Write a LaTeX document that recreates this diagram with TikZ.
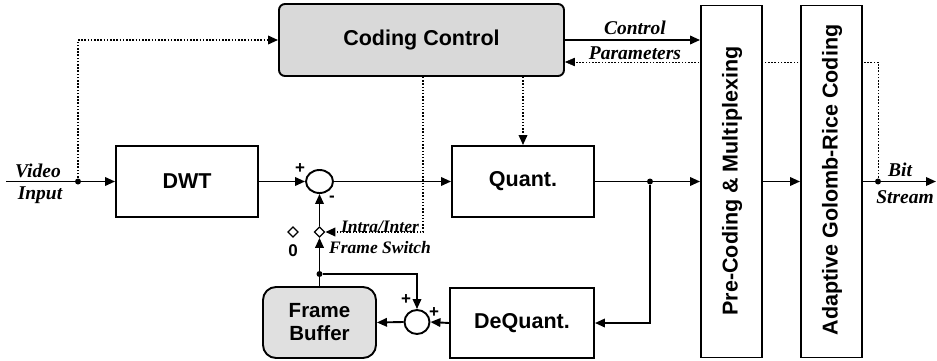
\documentclass[tikz,border=0pt]{standalone}
\usepackage{fontspec}
\setmainfont{Liberation Serif}
\setsansfont{Liberation Sans}
\usetikzlibrary{arrows.meta,shapes.geometric}
\pgfdeclarelayer{bg}
\pgfsetlayers{bg,main}

\begin{document}
\begin{tikzpicture}[x=1pt,y=-1pt,line width=1.9pt,
  blocklabel/.style={font=\sffamily\bfseries\fontsize{21.5}{25}\selectfont},
  block/.style={draw,fill=white,inner sep=0pt,blocklabel},
  ctrlbox/.style={block,fill=black!15,rounded corners=6pt},
  bufbox/.style={block,fill=black!12,rounded corners=13pt,align=center,
    font=\sffamily\bfseries\fontsize{20.5}{23}\selectfont},
  ital/.style={font=\rmfamily\bfseries\itshape\fontsize{19.5}{22}\selectfont,inner sep=0pt},
  smallital/.style={font=\rmfamily\bfseries\itshape\fontsize{17.5}{20}\selectfont,inner sep=0pt},
  sign/.style={font=\sffamily\bfseries\fontsize{17}{18}\selectfont,inner sep=0pt},
  flow/.style={-{Triangle[length=10pt,width=8.5pt]}},
  ctrl/.style={flow,dash pattern=on 1.5pt off 1.7pt},
  junction/.style={circle,fill,inner sep=0pt,minimum size=6pt},
  sumnode/.style={ellipse,draw,fill=white,inner sep=0pt},
  switchpt/.style={diamond,draw,fill=white,line width=1.2pt,inner sep=0pt,minimum size=10.5pt}]

\useasboundingbox (0,0) rectangle (937,361);

% processing blocks
\node[ctrlbox,minimum width=285pt,minimum height=72pt] (cc) at (421.5,40) {Coding Control};
\node[block,minimum width=142pt,minimum height=71pt] (dwt) at (187,181.5) {DWT};
\node[block,minimum width=142pt,minimum height=71pt] (quant) at (523,181.5) {Quant.};
\node[block,minimum width=144pt,minimum height=70pt] (deq) at (522,323) {DeQuant.};
\node[bufbox,minimum width=113pt,minimum height=71pt] (fb) at (319.5,322.5) {Frame\\Buffer};
\node[block,minimum width=61pt,minimum height=352pt] (pre) at (731.5,181.5) {};
\node[blocklabel,rotate=90] (pretext) at (732,181) {Pre-Coding \& Multiplexing};
\node[block,minimum width=61pt,minimum height=352pt] (agr) at (831.5,181.5) {};
\node[blocklabel,rotate=90] (agrtext) at (832,180) {Adaptive Golomb-Rice Coding};

% adders and the intra/inter switch
\node[sumnode,minimum width=27pt,minimum height=23pt] (sum1) at (319.5,181.5) {};
\node[sumnode,minimum width=25pt,minimum height=24pt] (sum2) at (417,322) {};
\node[switchpt] (sw) at (319.5,232) {};
\node[switchpt] (sw0) at (293,232) {};
\node[sign] (zero) at (293,251) {0};
\node[sign] (p1) at (300,169) {+};
\node[sign] (m1) at (332,199) {-};
\node[sign] (p2) at (406,300) {+};
\node[sign] (p3) at (434,313) {+};

% branch points and free ends
\coordinate (vin) at (6,181.5);
\coordinate (bout) at (936,181.5);
\node[junction] (j1) at (78,181.5) {};
\node[junction] (j2) at (650,181.5) {};
\node[junction] (j3) at (878,181.5) {};
\node[junction] (j4) at (319.5,274) {};
\coordinate (fbk) at (878,62);
\coordinate (swtap) at (423,0);

% main signal path
\draw[flow] (vin) -- (dwt.west);
\draw[flow] (dwt.east) -- (sum1.west);
\draw[flow] (sum1.east) -- (quant.west);
\draw[flow] (quant.east) -- (pre.west);
\draw[flow] (pre.east) -- (agr.west);
\draw[flow] (agr.east) -- (bout);

% reconstruction loop
\draw[flow] (j2) |- (deq.east);
\draw[flow] (deq.west) -- (sum2.east);
\draw[flow] (sum2.west) -- (fb.east);
\draw[flow] (fb.north) -- (sw.south);
\draw[flow] (j4) -| (sum2.north);
\draw[flow] (sw.north) -- (sum1.south);

% control signals
\draw[ctrl] (j1) |- (cc.west);
\draw[flow] (cc.east) -- (cc.east -| pre.west);
\draw[ctrl] (cc.south -| quant.north) -- (quant.north);
\draw[ctrl] (cc.south -| swtap) |- (sw.east);
\begin{pgfonlayer}{bg}
\draw[ctrl] (j3) -- (fbk) -- (fbk -| cc.east);
\end{pgfonlayer}

% signal labels
\node[ital] (lv) at (38,171) {Video};
\node[ital] (li) at (40,195) {Input};
\node[ital] (lc) at (635,28) {Control};
\node[ital] (lp) at (635,53) {Parameters};
\node[ital] (lb) at (900,170) {Bit};
\node[ital] (ls) at (905,197) {Stream};
\node[smallital] (lii) at (380,227) {Intra/Inter};
\node[smallital] (lfs) at (380,248) {Frame Switch};
\end{tikzpicture}
\end{document}
